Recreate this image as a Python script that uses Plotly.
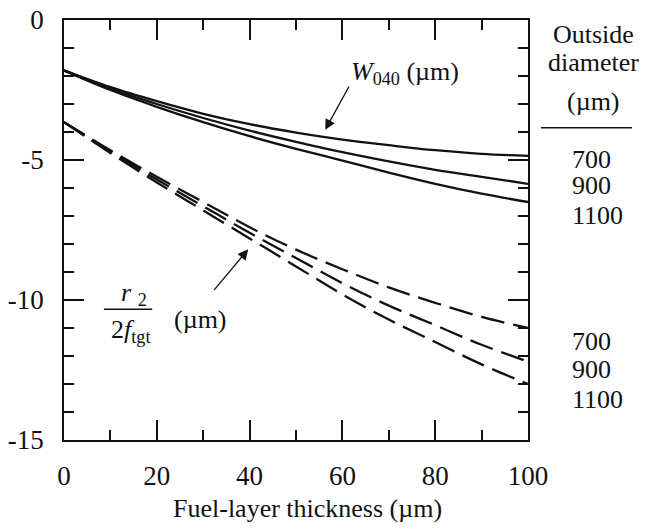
import plotly.graph_objects as go

thickness = [0, 10, 20, 30, 40, 50, 60, 70, 80, 90, 100]
w040_700 = [-1.8, -2.4, -2.9, -3.35, -3.72, -4.02, -4.27, -4.47, -4.65, -4.78, -4.85]
w040_900 = [-1.8, -2.45, -3.0, -3.5, -3.95, -4.35, -4.72, -5.05, -5.35, -5.6, -5.85]
w040_1100 = [-1.8, -2.5, -3.1, -3.65, -4.15, -4.6, -5.02, -5.45, -5.85, -6.2, -6.5]
r2_700 = [-3.65, -4.65, -5.6, -6.5, -7.4, -8.2, -8.9, -9.55, -10.1, -10.6, -11.0]
r2_900 = [-3.65, -4.7, -5.7, -6.65, -7.6, -8.5, -9.4, -10.2, -10.9, -11.6, -12.2]
r2_1100 = [-3.65, -4.75, -5.8, -6.8, -7.8, -8.8, -9.8, -10.7, -11.5, -12.3, -13.0]
diameters = ["700", "900", "1100"]
x_ticks = [0, 20, 40, 60, 80, 100]
y_ticks = [0, -5, -10, -15]

FONT = "Liberation Serif"
INK = "#111111"
FS_TICK = 27
FS = 26

fig = go.Figure()
for ys in (w040_700, w040_900, w040_1100):
    fig.add_trace(go.Scatter(x=thickness, y=ys, mode="lines", line=dict(color=INK, width=2.3, shape="spline"),
                             showlegend=False, hoverinfo="skip"))
for ys in (r2_700, r2_900, r2_1100):
    fig.add_trace(go.Scatter(x=thickness, y=ys, mode="lines",
                             line=dict(color=INK, width=2.3, dash="24px,9px", shape="spline"),
                             showlegend=False, hoverinfo="skip"))

axis_common = dict(showline=True, linecolor=INK, linewidth=1.5, mirror="allticks", ticks="inside",
                   tickcolor=INK, tickwidth=1.5, ticklen=20, showgrid=False, zeroline=False,
                   automargin=False, ticklabeloverflow="allow",
                   tickfont=dict(family=FONT, size=FS_TICK, color=INK))

fig.update_xaxes(range=[0, 100], tickvals=x_ticks, ticktext=[str(v) for v in x_ticks],
                 minor=dict(dtick=10, ticks="inside", ticklen=10, tickcolor=INK, tickwidth=1.5),
                 ticklabelstandoff=11, **axis_common)
fig.update_yaxes(range=[-15, 0], tickvals=y_ticks, ticktext=[str(v) for v in y_ticks],
                 minor=dict(dtick=1, ticks="inside", ticklen=10, tickcolor=INK, tickwidth=1.5),
                 ticklabelstandoff=13, **axis_common)

ann_font = dict(family=FONT, size=FS, color=INK)
annotations = [
    dict(x=0.524, y=-0.164, xref="paper", yref="paper", text="Fuel-layer thickness (µm)", showarrow=False,
         xanchor="center", yanchor="middle", font=ann_font),
    dict(x=73.5, y=-1.9, xref="x", yref="y", text="<i>W</i><sub>040</sub> (µm)", showarrow=False, font=ann_font),
    dict(x=56.3, y=-3.92, xref="x", yref="y", ax=61.6, ay=-2.32, axref="x", ayref="y", text="",
         showarrow=True, arrowhead=2, arrowsize=1.6, arrowwidth=1.3, arrowcolor=INK),
    dict(x=39.7, y=-8.19, xref="x", yref="y", ax=32.1, ay=-9.69, axref="x", ayref="y", text="",
         showarrow=True, arrowhead=2, arrowsize=1.6, arrowwidth=1.3, arrowcolor=INK),
    dict(x=15.1, y=-9.8, xref="x", yref="y", text="<i>r</i> <sub>2</sub>", showarrow=False, font=ann_font),
    dict(x=14.4, y=-11.1, xref="x", yref="y", text="2<i>f</i><sub>tgt</sub>", showarrow=False, font=ann_font),
    dict(x=29.5, y=-10.69, xref="x", yref="y", text="(µm)", showarrow=False, font=ann_font),
]
for txt, yy in (("Outside", -0.5), ("diameter", -1.53), ("(µm)", -2.92)):
    annotations.append(dict(x=1.142, y=yy, xref="paper", yref="y", text=txt, showarrow=False,
                            xanchor="center", font=ann_font))
upper_y = [-4.99, -5.91, -6.98]
lower_y = [-11.47, -12.47, -13.54]
for lab, yu, yl in zip(diameters, upper_y, lower_y):
    annotations.append(dict(x=1.09, y=yu, xref="paper", yref="y", text=lab, showarrow=False,
                            xanchor="left", font=ann_font))
    annotations.append(dict(x=1.09, y=yl, xref="paper", yref="y", text=lab, showarrow=False,
                            xanchor="left", font=ann_font))

shapes = [
    dict(type="line", xref="x", yref="y", x0=8.6, x1=19.0, y0=-10.33, y1=-10.33, line=dict(color=INK, width=1.5)),
    dict(type="line", xref="paper", yref="y", x0=1.028, x1=1.224, y0=-3.85, y1=-3.85, line=dict(color=INK, width=1.5)),
]

fig.update_layout(width=640, height=522, margin=dict(l=56, r=120, t=12, b=90),
                  paper_bgcolor="white", plot_bgcolor="white",
                  annotations=annotations, shapes=shapes, showlegend=False,
                  font=dict(family=FONT, color=INK))
fig.write_html("out.html")
